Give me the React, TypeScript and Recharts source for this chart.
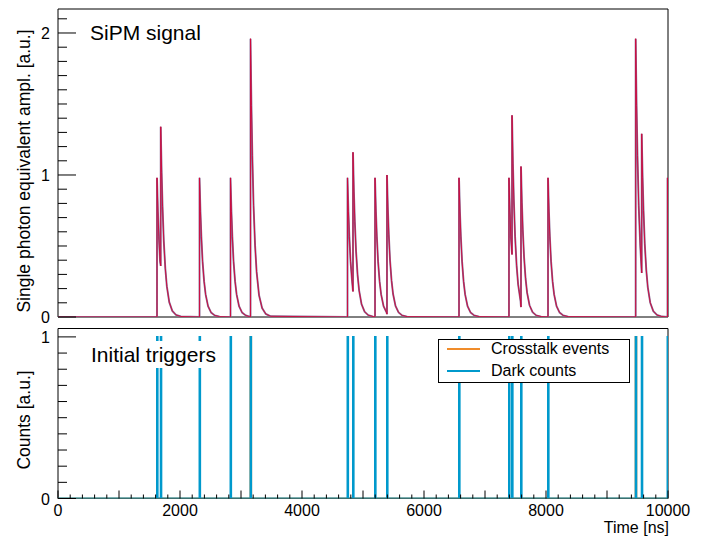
import React from 'react';
import { LineChart, Line, XAxis, YAxis, ReferenceArea } from 'recharts';

// pulse list (time in ns, level just before the jump, level at the peak)
const pulseNs = [1623, 1684, 2320, 2828, 3156, 4746, 4836, 5197, 5393, 6574, 7393, 7443, 7590, 8033, 9470, 9569, 9992];
const pulseBase = [0, 0.36, 0, 0, 0, 0, 0.18, 0, 0.02, 0, 0, 0.44, 0.07, 0, 0, 0.31, 0];
const pulsePeak = [0.98, 1.34, 0.98, 0.98, 1.96, 0.98, 1.16, 0.98, 1.0, 0.98, 0.98, 1.42, 1.06, 0.98, 1.96, 1.29, 0.98];

const decayNs = [0, 15, 30, 50, 75, 100, 140, 190, 250, 330];
const decayFrac = [1, 0.76, 0.58, 0.4, 0.256, 0.162, 0.078, 0.032, 0.011, 0.0025];

// lower panel: trigger times (ns)
const darkNs = [1623, 1684, 2320, 2828, 3156, 4746, 4836, 5197, 5393, 6574, 7393, 7443, 7590, 8033, 9470, 9569, 9992];
const crosstalkNs = [3156, 9470];
const binNs = 10;

const topXTicks = [0, 500, 1000, 1500, 2000, 2500, 3000, 3500, 4000, 4500, 5000, 5500, 6000, 6500, 7000, 7500, 8000, 8500, 9000, 9500, 10000];
const bottomXTicks = Array.from({ length: 51 }, (_, i) => i * 200);
const xLabels = [0, 2000, 4000, 6000, 8000, 10000];
const ampTicks = Array.from({ length: 22 }, (_, i) => Math.round(i * 10) / 100);
const ampLabels = [0, 1, 2];
const countTicks = Array.from({ length: 11 }, (_, i) => i / 10);
const countLabels = [0, 1];

const AMP_MAX = 2.169;
const COUNT_MAX = 1.052;
const FONT = '"Liberation Sans", Arial, Helvetica, sans-serif';
const RED = '#d0063a';
const SHADOW = '#8a6d97';
const CYAN = '#0099cc';
const ORANGE = '#f08c2a';

const signal: { t: number; v: number }[] = [{ t: 0, v: 0 }];
pulseNs.forEach((t, i) => {
  signal.push({ t, v: pulseBase[i] }, { t, v: pulsePeak[i] });
  const next = i + 1 < pulseNs.length ? pulseNs[i + 1] : Infinity;
  decayNs.forEach((d, k) => {
    if (k > 0 && t + d < next) signal.push({ t: t + d, v: pulsePeak[i] * decayFrac[k] });
  });
});

const histo = (times: number[]) => {
  const pts: { t: number; n: number }[] = [{ t: 0, n: 0 }];
  times.forEach((t) => {
    pts.push({ t, n: 0 }, { t, n: 1 }, { t: t + binNs, n: 1 }, { t: t + binNs, n: 0 });
  });
  pts.push({ t: 10000, n: 0 });
  return pts;
};
const darkData = histo(darkNs);
const crosstalkData = histo(crosstalkNs);

const near = (a: number, list: number[]) => list.some((b) => Math.abs(a - b) < 1e-6);

const makeXTick = (longEvery: number, longLen: number, shortLen: number, labels: boolean) => (p: any) => {
  const v = p.payload.value;
  const isLong = Math.abs(v / longEvery - Math.round(v / longEvery)) < 1e-6;
  return (
    <g>
      <line x1={p.x} x2={p.x} y1={p.y} y2={p.y - (isLong ? longLen : shortLen)} stroke="#000" strokeWidth={1} />
      {labels && near(v, xLabels) && (
        <text x={p.x} y={p.y + 17} textAnchor="middle" fontSize={16} fontFamily={FONT} fill="#000">
          {v}
        </text>
      )}
    </g>
  );
};

const makeYTick = (labels: number[]) => (p: any) => {
  const v = p.payload.value;
  const major = near(v, labels);
  return (
    <g>
      <line x1={p.x} x2={p.x + (major ? 18 : 9)} y1={p.y} y2={p.y} stroke="#000" strokeWidth={1} />
      {major && (
        <text x={p.x - 8} y={p.y + 6} textAnchor="end" fontSize={16} fontFamily={FONT} fill="#000">
          {v}
        </text>
      )}
    </g>
  );
};

export default function App() {
  return (
    <div style={{ position: 'absolute', left: 0, top: 0, width: 707, height: 540, background: '#fff', fontFamily: FONT }}>
      <div style={{ position: 'absolute', left: 0, top: 0 }}>
        <LineChart width={707} height={330} margin={{ top: 9, right: 39, bottom: 13, left: 0 }}>
          <XAxis
            type="number"
            dataKey="t"
            domain={[0, 10000]}
            allowDataOverflow
            ticks={topXTicks}
            interval={0}
            height={0}
            axisLine={false}
            tickLine={false}
            tickSize={0}
            tickMargin={0}
            tick={makeXTick(2000, 8, 4, false)}
          />
          <YAxis
            type="number"
            domain={[0, AMP_MAX]}
            allowDataOverflow
            ticks={ampTicks}
            interval={0}
            width={58}
            axisLine={false}
            tickLine={false}
            tickSize={0}
            tickMargin={0}
            tick={makeYTick(ampLabels)}
          />
          <Line data={signal} dataKey="v" type="linear" stroke={SHADOW} strokeWidth={1.9} dot={false} isAnimationActive={false} />
          <Line data={signal} dataKey="v" type="linear" stroke={RED} strokeWidth={0.9} dot={false} isAnimationActive={false} />
          <ReferenceArea x1={0} x2={10000} y1={0} y2={AMP_MAX} fill="none" stroke="#000" strokeWidth={1} ifOverflow="visible" />
        </LineChart>
      </div>
      <div style={{ position: 'absolute', left: 0, top: 317 }}>
        <LineChart width={707} height={223} margin={{ top: 11.5, right: 39, bottom: 0, left: 0 }}>
          <XAxis
            type="number"
            dataKey="t"
            domain={[0, 10000]}
            allowDataOverflow
            ticks={bottomXTicks}
            interval={0}
            height={41.5}
            axisLine={false}
            tickLine={false}
            tickSize={0}
            tickMargin={0}
            tick={makeXTick(1000, 8, 4, true)}
          />
          <YAxis
            type="number"
            domain={[0, COUNT_MAX]}
            allowDataOverflow
            ticks={countTicks}
            interval={0}
            width={58}
            axisLine={false}
            tickLine={false}
            tickSize={0}
            tickMargin={0}
            tick={makeYTick(countLabels)}
          />
          <Line data={crosstalkData} dataKey="n" type="linear" stroke={ORANGE} strokeWidth={2} dot={false} isAnimationActive={false} />
          <Line data={darkData} dataKey="n" type="linear" stroke={CYAN} strokeWidth={2} dot={false} isAnimationActive={false} />
          <ReferenceArea x1={0} x2={10000} y1={0} y2={COUNT_MAX} fill="none" stroke="#000" strokeWidth={1} ifOverflow="visible" />
        </LineChart>
      </div>

      <svg width={707} height={540} style={{ position: 'absolute', left: 0, top: 0, pointerEvents: 'none' }}>
        <text transform="translate(30,171) rotate(-90)" textAnchor="middle" fontSize={17.5} fontFamily={FONT} fill="#000">
          Single photon equivalent ampl. [a.u.]
        </text>
        <text transform="translate(30,420) rotate(-90)" textAnchor="middle" fontSize={17.5} fontFamily={FONT} fill="#000">
          Counts [a.u.]
        </text>
        <text x={669} y={533} textAnchor="end" fontSize={16} fontFamily={FONT} fill="#000">
          Time [ns]
        </text>
      </svg>

      <div style={{ position: 'absolute', left: 90, top: 22, fontSize: 21, lineHeight: 1, color: '#000' }}>SiPM signal</div>
      <div
        style={{
          position: 'absolute',
          left: 88,
          top: 341,
          height: 27,
          lineHeight: '27px',
          paddingLeft: 3,
          paddingRight: 4,
          fontSize: 21,
          background: '#fff',
          color: '#000',
        }}
      >
        Initial triggers
      </div>

      <div
        style={{
          position: 'absolute',
          left: 438,
          top: 339,
          width: 190,
          height: 42,
          border: '1px solid #000',
          background: '#fff',
          fontSize: 16,
          color: '#000',
        }}
      >
        {[
          { name: 'Crosstalk events', color: ORANGE, y: 9 },
          { name: 'Dark counts', color: CYAN, y: 31 },
        ].map((item) => (
          <div key={item.name} style={{ position: 'absolute', left: 0, top: item.y - 10, height: 20, width: '100%' }}>
            <div style={{ position: 'absolute', left: 8, top: 9, width: 33, height: 2, background: item.color }} />
            <div style={{ position: 'absolute', left: 52, top: 0, lineHeight: '20px', whiteSpace: 'nowrap' }}>{item.name}</div>
          </div>
        ))}
      </div>
    </div>
  );
}
